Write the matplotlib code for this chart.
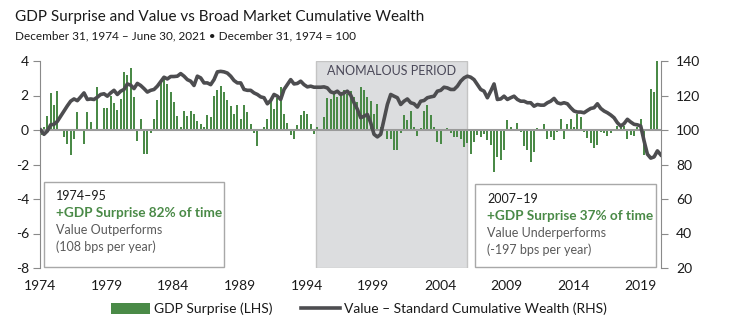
import matplotlib
matplotlib.use("Agg")
import matplotlib.pyplot as plt
from matplotlib.patches import Patch, Rectangle
from matplotlib.lines import Line2D
import numpy as np

plt.rcParams['font.family'] = ['Lato', 'DejaVu Sans']
plt.rcParams['axes.unicode_minus'] = False

# quarterly GDP surprise (LHS), Dec 1974 onwards
gdp_surprise = [
    -0.3, 0.2, 0.8, 2.15, 1.45, 2.25, 0, -0.4, -0.8, -1.45,
    -0.5, 1.05, 0, -0.8, 1.05, 0.45, 0, 2.5, 0.05, 1.25,
    1.3, 2.0, 1.55, 1.15, 1.8, 3.35, 3.2, 3.6, 1.9, -0.65,
    0.65, -1.4, -1.4, -0.15, 0.65, 1.75, 2.85, 3.0, 2.65, 2.2,
    1.6, 0.8, 0.15, 1.1, 0.8, 1.1, 0.9, 0.55, 0.35, 0.15,
    0.85, 0.75, 2.0, 2.3, 2.55, 2.2, 1.75, 1.4, 0.95, 1.45,
    0.65, 1.45, 1.05, 0.35, -0.15, -0.9, 0, 0.15, 0.65, 1.8,
    1.2, 1.85, 2.5, 0.9, 0.4, -0.3, -0.5, 0.3, 0.85, 1.1,
    0.95, 0.35, -0.25, 0.2, -0.05, 0.75, 1.85, 1.8, 2.2, 1.9,
    2.2, 2.3, 2.1, 2.25, 1.9, 1.6, 2.5, 2.3, 1.9, 1.7,
    0.95, 1.5, 0.2, 0.05, -0.55, -0.55, -1.15, -1.15, -0.2, 0.85,
    0.6, 1.1, 0.2, -0.35, 0.1, 1.1, 1.45, 0.85, 0.15, -0.7,
    -0.8, 0, 0.1, -0.15, -0.4, -0.4, -0.5, -1.0, -0.75, -1.4,
    -0.7, -0.3, -0.4, -0.25, -0.6, -0.85, -2.45, -1.55, -1.75, -1.15,
    0.6, 0.15, 0, 0.4, -0.1, -0.95, -1.15, -1.85, -1.25, 0.1,
    0, 0.35, -0.55, -0.4, -0.6, -0.1, 0.65, -0.55, 0.35, 0.65,
    0.15, 0.95, 0.75, -0.1, -0.45, -0.75, -1.05, -0.85, -0.1, -0.2,
    -0.35, -0.2, 0.05, 0.25, 0.35, 0.25, -0.5, -0.3, -0.35, 0.15,
    0.65, -1.45, 0, 2.4, 2.2, 4.0,
]

# value minus standard cumulative wealth (RHS), Dec 1974 = 100
cum_wealth = [
    100, 97.5, 99.4, 103, 103.3, 105, 108, 111, 114, 116.7,
    118, 117, 119.2, 121.5, 117.7, 118, 117.7, 119, 120.6, 121,
    119.6, 121.5, 123, 120.6, 122.5, 123.5, 126.7, 126, 124, 127,
    125.8, 124, 122, 123, 123.5, 125.4, 128, 130.6, 129.6, 131,
    131, 131.2, 132.7, 131.2, 129.2, 128.3, 125.8, 131.2, 130.2, 127.3,
    127.3, 126.3, 129.2, 133.7, 134, 133.7, 133, 131.2, 128.7, 127.3,
    127.3, 123.5, 123, 123, 121.5, 120.6, 119.2, 118.7, 115.2, 117.1,
    120.6, 119.6, 117.7, 123.5, 126.3, 129.2, 126.7, 127, 128.3, 126.3,
    125, 125.4, 124.8, 124.8, 124.8, 125, 124.4, 122.1, 121.5, 122.5,
    120.6, 121.5, 122.5, 120.2, 115.8, 112, 107.1, 108, 109, 104.2,
    97.5, 96, 97.5, 106.2, 114.8, 120.6, 119.6, 118.7, 114.8, 116.7,
    118, 115.8, 115.2, 113.3, 116.7, 117.1, 118.7, 119.2, 119.6, 122.5,
    123, 124.8, 124.4, 123.5, 123.5, 125.4, 128.3, 130.2, 131.2, 130.6,
    129.2, 126.3, 123.5, 122.5, 118.7, 122.5, 126.7, 117.7, 118, 119.6,
    117.7, 118.7, 119.6, 117.7, 116.7, 116.7, 115.8, 115.8, 113.8, 114.8,
    114.4, 114.4, 115.8, 116.7, 118.3, 115.8, 115.2, 115.8, 115.2, 112.9,
    111, 110.4, 110.4, 110, 111.3, 112.5, 112.9, 115.2, 112.5, 111,
    110, 108.7, 107.1, 104.2, 102.3, 103.7, 106.2, 104.6, 103.3, 103,
    102.3, 93.7, 86, 83.7, 84.4, 87.9, 85.6,
]

year_ticks = [1974, 1979, 1984, 1989, 1994, 1999, 2004, 2009, 2014, 2019]
anomaly = (1994.73, 2006.04)

green = '#4a8a47'
grey_line = '#4d4d50'

fig = plt.figure(figsize=(7.34, 3.26), dpi=100)
W, H = 734, 326


def px(x, y):
    return x / W, 1 - y / H


ax = fig.add_axes([40 / W, 1 - 268 / H, (661 - 40) / W, (268 - 61) / H])
ax2 = ax.twinx()

bar_x = 1974.05 + np.arange(len(gdp_surprise)) / 4
line_x = 1974.05 + np.arange(len(cum_wealth)) / 4

ax.axvspan(anomaly[0], anomaly[1], facecolor='#dcdddf', edgecolor='#c4c4c4', lw=1, zorder=0)
ax.bar(bar_x, gdp_surprise, width=0.15, color=green, zorder=2)
ax.axhline(0, color='#9a9a9a', lw=1.5, zorder=3)
ax2.plot(line_x, cum_wealth, color=grey_line, lw=2.6, solid_joinstyle='round', zorder=4)

ax.set_xlim(1974, 2020.57)
ax.set_ylim(-8, 4)
ax2.set_ylim(20, 140)
ax.set_yticks([4, 2, 0, -2, -4, -6, -8])
ax2.set_yticks([140, 120, 100, 80, 60, 40, 20])
ax.set_xticks(year_ticks)
ax.set_xticklabels([str(y) for y in year_ticks])

for a in (ax, ax2):
    for s in ('top', 'bottom'):
        a.spines[s].set_visible(False)
ax.spines['right'].set_visible(False)
ax2.spines['left'].set_visible(False)
ax.spines['left'].set_color('#8a8a8a')
ax2.spines['right'].set_color('#8a8a8a')
ax.tick_params(axis='y', colors='#8a8a8a', labelcolor='#1a1a1a', labelsize=10, length=5, pad=3)
ax2.tick_params(axis='y', colors='#8a8a8a', labelcolor='#1a1a1a', labelsize=10, length=5, pad=6)
ax.tick_params(axis='x', length=0, labelsize=10, labelcolor='#1a1a1a', pad=9)

ax.text(sum(anomaly) / 2, 3.75, 'ANOMALOUS PERIOD', ha='center', va='top',
        fontsize=9, color='#4a4858', zorder=5)

# annotation boxes
boxes = [
    ((44, 182, 224, 267), (56, 196), ['1974\u201395', '+GDP Surprise 82% of time',
                                      'Value Outperforms', '(108 bps per year)']),
    ((475, 184, 656, 267), (487, 199), ['2007\u201319', '+GDP Surprise 37% of time',
                                        'Value Underperforms', '(-197 bps per year)']),
]
for (x0, y0, x1, y1), (tx, ty), lines in boxes:
    fx0, fy1 = px(x0, y1)
    fx1, fy0 = px(x1, y0)
    fig.patches.append(Rectangle((fx0, fy1), fx1 - fx0, fy0 - fy1, transform=fig.transFigure,
                                 facecolor='white', edgecolor='#a8a8a8', lw=1, zorder=6))
    colors = ['#1a1a1a', green, '#5a5a5a', '#5a5a5a']
    weights = ['normal', 'bold', 'normal', 'normal']
    sizes = [9, 9.8, 9, 9]
    for k, (txt, c, wgt, sz) in enumerate(zip(lines, colors, weights, sizes)):
        fig.text(*px(tx, ty + k * 17), txt, color=c, fontweight=wgt, fontsize=sz,
                 va='center', ha='left', zorder=7)

fig.text(*px(15, 17), 'GDP Surprise and Value vs Broad Market Cumulative Wealth',
         fontsize=11, color='#1a1a1a', va='center', ha='left')
fig.text(*px(15, 36), 'December 31, 1974 \u2013 June 30, 2021 \u2022 December 31, 1974 = 100',
         fontsize=8.5, color='#1a1a1a', va='center', ha='left')

handles = [Patch(facecolor=green, edgecolor='none'),
           Line2D([0], [0], color=grey_line, lw=2.6)]
fig.legend(handles, ['GDP Surprise (LHS)', 'Value \u2013 Standard Cumulative Wealth (RHS)'],
           loc='center', bbox_to_anchor=px(359, 309), ncol=2, frameon=False,
           fontsize=10, handlelength=2.8, handleheight=0.8, columnspacing=2.0,
           handletextpad=0.3, labelcolor='#1a1a1a')

fig.savefig('out.png', dpi=100)
